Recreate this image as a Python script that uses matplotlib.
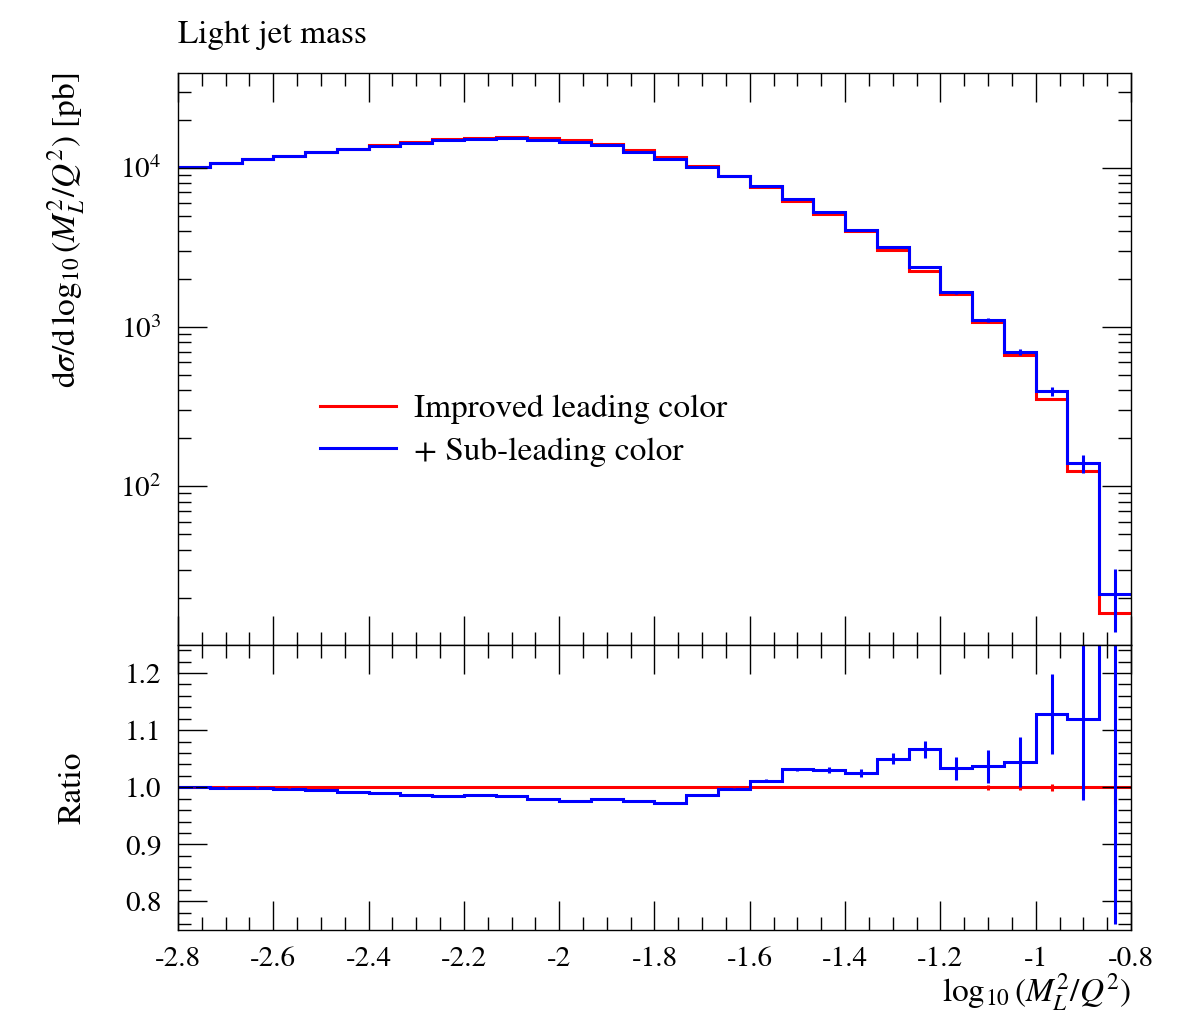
import numpy as np
import matplotlib
matplotlib.use("Agg")
import matplotlib.pyplot as plt
from matplotlib.ticker import MultipleLocator, LogLocator, NullFormatter, FuncFormatter

plt.rcParams['font.family'] = ['STIXGeneral', 'DejaVu Serif']
plt.rcParams['mathtext.fontset'] = 'stix'
plt.rcParams['axes.unicode_minus'] = False

# binning: 30 bins in log10(M_L^2/Q^2)
x_lo, x_hi, nbins = -2.8, -0.8, 30

# improved leading color (red)
lc = [10050, 10680, 11310, 11880, 12550, 13150, 13830, 14560, 15080, 15410,
      15550, 15230, 14930, 14110, 12920, 11670, 10290, 8900, 7550, 6195,
      5090, 3980, 3040, 2240, 1597, 1070, 664, 351, 125, 15.9]
lc_relerr = [0.0005] * 24 + [0.001, 0.004, 0.005, 0.006, 0.01, 0.03]

# + sub-leading color (blue)
slc = [10050, 10660, 11290, 11840, 12490, 13050, 13690, 14360, 14860, 15210,
       15300, 14930, 14570, 13830, 12600, 11340, 10150, 8870, 7640, 6390,
       5245, 4080, 3190, 2388, 1650, 1110, 693, 394, 139, 21.2]
ratio = [1.000, 0.998, 0.998, 0.9965, 0.995, 0.9925, 0.990, 0.986, 0.9855, 0.987,
         0.984, 0.980, 0.976, 0.980, 0.9755, 0.972, 0.9866, 0.9965, 1.0117, 1.0315,
         1.030, 1.025, 1.050, 1.0664, 1.033, 1.037, 1.044, 1.129, 1.120, 1.33]
ratio_err = [0.001] * 16 + [0.002, 0.002, 0.002, 0.003, 0.0055, 0.007, 0.010,
                            0.015, 0.020, 0.029, 0.044, 0.070, 0.143, 0.57]

edges = np.linspace(x_lo, x_hi, nbins + 1)
centers = 0.5 * (edges[1:] + edges[:-1])
lc = np.array(lc)
slc = np.array(slc)
ratio = np.array(ratio)
lc_err = lc * np.array(lc_relerr)
slc_err = lc * np.array(ratio_err)

RED = '#ff0000'
BLUE = '#0000ff'
lw = 2.2

fig = plt.figure(figsize=(11.78, 10.23), dpi=100)
W, H = 1178.0, 1023.0
ax = fig.add_axes([178 / W, 1 - 644.5 / H, 953 / W, (644.5 - 72.5) / H])
rax = fig.add_axes([178 / W, 1 - 930 / H, 953 / W, (930 - 644.5) / H])

def style(a):
    a.tick_params(which='both', direction='in', top=True, right=True, width=1.0,
                  labelsize=21, pad=12)
    a.tick_params(which='major', length=21)
    a.tick_params(which='minor', length=9.5)
    a.xaxis.set_major_locator(MultipleLocator(0.2))
    a.xaxis.set_minor_locator(MultipleLocator(0.05))
    for s in a.spines.values():
        s.set_linewidth(1.0)

# main panel
ax.stairs(lc, edges, baseline=None, color=RED, lw=lw, label='Improved leading color')
ax.errorbar(centers, lc, yerr=lc_err, fmt='none', ecolor=RED, elinewidth=lw, capsize=0)
ax.stairs(slc, edges, baseline=None, color=BLUE, lw=lw, label='+ Sub-leading color')
ax.errorbar(centers, slc, yerr=slc_err, fmt='none', ecolor=BLUE, elinewidth=lw, capsize=0)
ax.set_yscale('log')
ax.set_xlim(x_lo, x_hi)
ax.set_ylim(10.15, 39500)
style(ax)
ax.yaxis.set_major_locator(LogLocator(base=10, numticks=10))
ax.yaxis.set_minor_locator(LogLocator(base=10, subs=np.arange(2, 10), numticks=100))
ax.yaxis.set_minor_formatter(NullFormatter())
ax.yaxis.set_major_formatter(FuncFormatter(lambda v, p: r'$10^{%d}$' % round(np.log10(v))))
ax.tick_params(labelbottom=False)
ax.set_ylabel(r'$\mathrm{d}\sigma/\mathrm{d}\,\log_{10}(M_L^2/Q^2)$ [pb]', fontsize=24, loc='top')
ax.yaxis.set_label_coords(-0.095, 1.0)
ax.set_title('Light jet mass', loc='left', fontsize=24, pad=21)

ax.legend(loc='upper left', bbox_to_anchor=(0.149, 0.438), frameon=False, fontsize=24,
          handlelength=2.28, handletextpad=0.55, labelspacing=0.37, borderpad=0,
          borderaxespad=0)

# ratio panel
rax.stairs(np.ones(nbins), edges, baseline=None, color=RED, lw=lw)
rax.errorbar(centers, np.ones(nbins), yerr=lc_relerr, fmt='none', ecolor=RED,
             elinewidth=lw, capsize=0)
rax.stairs(ratio, edges, baseline=None, color=BLUE, lw=lw)
rax.errorbar(centers, ratio, yerr=ratio_err, fmt='none', ecolor=BLUE,
             elinewidth=lw, capsize=0)
rax.set_xlim(x_lo, x_hi)
rax.set_ylim(0.75, 1.25)
style(rax)
rax.yaxis.set_major_locator(MultipleLocator(0.1))
rax.yaxis.set_minor_locator(MultipleLocator(0.02))
rax.yaxis.set_major_formatter(FuncFormatter(lambda v, p: '%.1f' % v))
rax.xaxis.set_major_formatter(FuncFormatter(lambda v, p: ('%g' % round(v, 1))))
rax.set_ylabel('Ratio', fontsize=24)
rax.yaxis.set_label_coords(-0.095, 0.5)
rax.set_xlabel(r'$\log_{10}(M_L^2/Q^2)$', fontsize=24, loc='right', labelpad=0)

fig.savefig('out.png', dpi=100)
